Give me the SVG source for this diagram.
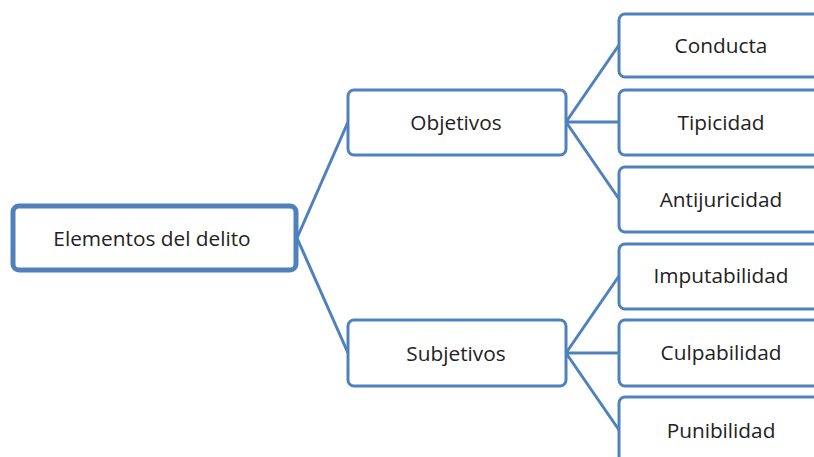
<svg xmlns="http://www.w3.org/2000/svg" width="814" height="457" viewBox="0 0 814 457">
<style>
.box{fill:#fff;stroke:#4F81BD;stroke-width:3}
.root{fill:#fff;stroke:#4F81BD;stroke-width:5}
.lbl{font-family:"Open Sans","Liberation Sans",sans-serif;font-size:20.8px;fill:#222;text-anchor:middle;dominant-baseline:central}
.con path{fill:none;stroke:#4F81BD;stroke-width:3}
</style>
<rect width="814" height="457" fill="#fff"/>
<g class="con">
<path d="M297 238 L348 122 M297 238 L348 353"/>
<path d="M566 122 L619 45 M566 122 L619 122 M566 122 L619 199"/>
<path d="M566 353 L619 276 M566 353 L619 353 M566 353 L619 430"/>
</g>
<g id="root"><rect class="root" x="13" y="206" width="283" height="64" rx="6"/><text class="lbl" x="152" y="238">Elementos del delito</text></g>
<g id="objetivos"><rect class="box" x="348" y="90" width="218" height="65" rx="6"/><text class="lbl" x="456" y="122">Objetivos</text></g>
<g id="subjetivos"><rect class="box" x="348" y="320" width="218" height="66" rx="6"/><text class="lbl" x="456" y="353">Subjetivos</text></g>
<g id="conducta"><rect class="box" x="619" y="14" width="210" height="63" rx="6"/><text class="lbl" x="721" y="45">Conducta</text></g>
<g id="tipicidad"><rect class="box" x="619" y="90" width="210" height="65" rx="6"/><text class="lbl" x="721" y="122">Tipicidad</text></g>
<g id="antijuricidad"><rect class="box" x="619" y="167" width="210" height="65" rx="6"/><text class="lbl" x="721" y="199">Antijuricidad</text></g>
<g id="imputabilidad"><rect class="box" x="619" y="244" width="210" height="65" rx="6"/><text class="lbl" x="721" y="275">Imputabilidad</text></g>
<g id="culpabilidad"><rect class="box" x="619" y="320" width="210" height="66" rx="6"/><text class="lbl" x="721" y="352">Culpabilidad</text></g>
<g id="punibilidad"><rect class="box" x="619" y="397" width="210" height="70" rx="6"/><text class="lbl" x="721" y="430">Punibilidad</text></g>
</svg>
